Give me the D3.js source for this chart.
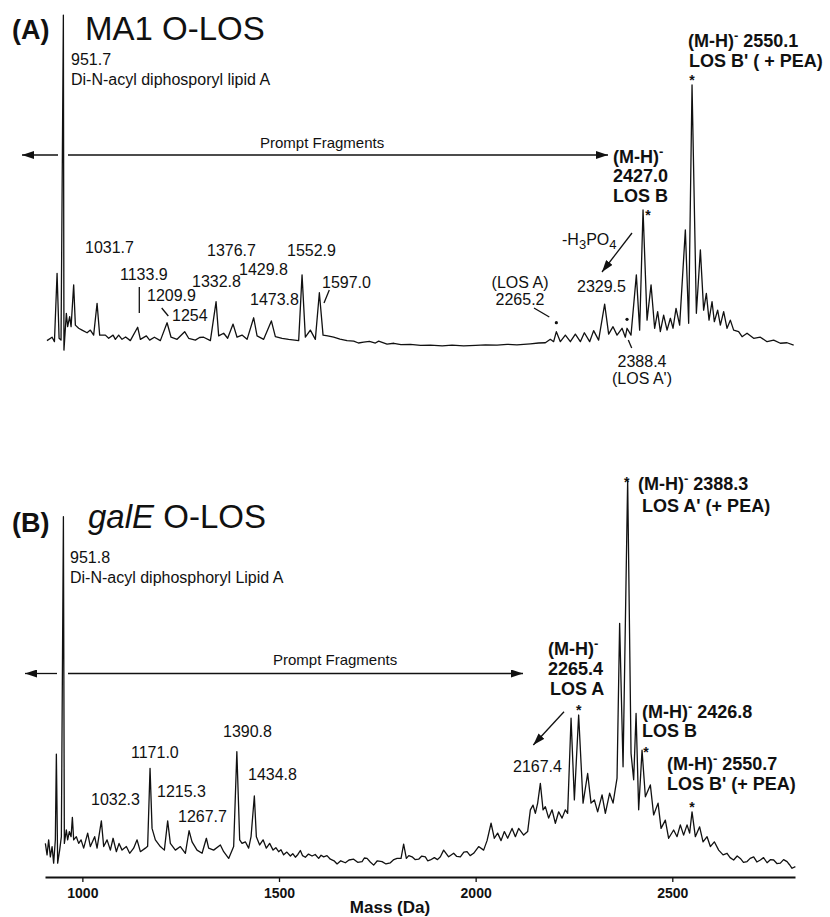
<!DOCTYPE html>
<html>
<head>
<meta charset="utf-8">
<script src="https://cdn.jsdelivr.net/npm/d3@7"></script>
<style>
  body { margin: 0; background: #fff; }
  svg text { font-family: "Liberation Sans", Arial, Helvetica, sans-serif; fill: #111; }
  .reg { font-size: 16px; }
  .bold { font-size: 18px; font-weight: bold; }
</style>
</head>
<body>
<svg id="chart" width="830" height="917"></svg>
<script>
// mass axis
const massTicks = [1000, 1500, 2000, 2500];
const massDomain = [905, 2812];

// (A) MA1 O-LOS, [mass (Da), relative intensity %]
const spectrumA = [
  [910,2.8],[923,4.1],[929,2.4],[935.7,28.4],[940.8,3.7],[945.8,3.0],[951.7,126.6],[953.2,-0.8],
  [959.3,13.2],[962.6,8.1],[967.7,11.9],[971.3,8.1],[977.9,24.0],[982.2,8.7],[990.6,7.5],[999.2,6.8],
  [1012,5.8],[1020.3,6.8],[1028.7,4.9],[1037.4,17.0],[1044,4.9],[1058.5,4.9],[1066.9,3.7],[1078.1,4.9],
  [1083.9,3.3],[1092.3,4.9],[1100.9,3.3],[1110,4.2],[1122,2.8],[1140.6,7.9],[1147.5,3.3],[1162.7,4.6],[1171.1,3.0],
  [1183.1,4.1],[1198.3,2.8],[1215.4,9.6],[1225.5,4.1],[1240.8,3.3],[1260.1,6.2],[1270.3,3.7],[1287.3,3.0],
  [1298,4.0],[1308.4,4.1],[1325.5,2.8],[1340,17.6],[1346.6,4.6],[1359.3,5.6],[1369.4,3.7],[1383.2,9.1],[1393.3,4.1],
  [1406,4.9],[1418.8,3.3],[1435.6,11.5],[1444.2,4.6],[1461,3.3],[1480.6,10.3],[1490.7,4.3],[1507.8,3.7],
  [1524.5,3.3],[1550,2.8],[1558.6,27.8],[1567,4.1],[1579.7,6.8],[1592.4,3.3],[1602.6,21.0],[1612,4.9],
  [1623.7,4.6],[1639,4.1],[1655,3.4],[1673,2.8],[1690,2.6],[1702,1.9],[1715.2,2.2],[1730,2.5],[1745,1.9],
  [1753.4,2.6],[1774.7,1.5],[1792,1.8],[1810,1.3],[1834,1.4],[1860,1.0],[1884.8,1.1],[1915,0.8],[1940,1.1],
  [1969.5,0.8],[2000,1.0],[2025,1.2],[2054.4,1.1],[2080,1.4],[2105,1.2],[2139.1,1.6],[2160,1.9],[2177.2,2.0],
  [2189.9,3.3],[2198.3,2.4],[2205.2,6.2],[2215.4,2.4],
  [2228.1,4.9],[2240.8,2.4],[2253.5,5.3],[2266.2,2.4],[2276.4,5.8],[2289.9,2.4],[2300,6.6],[2312.7,3.0],
  [2328,16.7],[2338.2,5.3],[2349.3,8.1],[2359.5,4.9],[2372.2,7.5],[2380.6,4.1],[2384.9,7.5],[2395,4.9],
  [2408.6,27.8],[2417,6.8],[2425.6,52.5],[2435.8,10.6],[2446,24.0],[2455.1,7.5],[2462.8,13.8],[2469.6,6.2],
  [2478,12.5],[2486.7,6.8],[2495.1,11.3],[2501.9,7.5],[2509.5,15.1],[2518.7,8.7],[2533.2,44.9],[2541.6,9.4],
  [2550.2,100],[2561.2,13.2],[2571.4,37.3],[2579.7,14.4],[2586.6,20.8],[2593.4,10.6],[2601.1,17.6],[2606.9,10.0],
  [2615.3,14.4],[2622.2,8.7],[2630.6,13.8],[2639.2,7.5],[2647.6,10.6],[2656,6.8],[2668.7,6.2],[2677.4,4.3],
  [2690.1,5.6],[2706.9,3.7],[2723.9,4.1],[2741,2.4],[2757.8,3.0],[2774.7,1.8],[2791.8,2.0],[2808.6,1.1]
];

// (B) galE O-LOS
const spectrumB = [
  [905.9,8.0],[910.2,5.1],[914.3,8.9],[918.6,4.6],[923,7.2],[927,3.0],[931.3,8.9],[933.9,30.6],
  [937.2,3.0],[942.3,6.3],[946.6,9.7],[951.8,90.7],[954.2,8.0],[959.3,11.4],[962.6,8.9],[966.9,11.0],
  [971.3,9.7],[974.6,14.6],[977.9,8.9],[984.7,9.7],[990.6,8.0],[996.7,8.9],[1003.3,6.8],[1013.5,10.6],
  [1020.3,7.2],[1031.3,9.7],[1037.4,6.8],[1048.3,13.7],[1054.2,7.2],[1062.8,8.9],[1071.2,6.3],[1078.1,9.3],
  [1086.4,5.9],[1093.3,8.0],[1100.9,6.3],[1111.9,7.2],[1120.3,5.5],[1130.4,6.8],[1139.1,8.9],[1147.5,5.9],
  [1160.2,6.8],[1166,7.3],[1172.1,27.0],[1177.2,11.8],[1185.6,8.9],[1198.3,7.2],[1208.5,6.3],[1216.9,13.7],
  [1223.7,8.0],[1236.5,6.3],[1249.2,7.2],[1261.9,5.5],[1271.3,11.2],[1278.9,8.4],[1291.6,6.3],[1304.4,5.5],
  [1315.3,9.3],[1321.1,6.8],[1333.8,6.3],[1350.9,7.6],[1359.3,5.9],[1372,4.2],[1384.7,7.2],[1392.8,31.2],
  [1400,8.9],[1406,8.0],[1414.4,8.4],[1422.8,6.8],[1428.9,9.7],[1437.3,20.0],[1442.4,9.7],[1450.8,7.6],
  [1459.5,8.9],[1467.8,6.8],[1476.2,8.0],[1484.9,6.3],[1492,6.9],[1499.1,5.9],[1505,6.4],[1511.8,5.1],[1520,5.8],
  [1528.9,4.8],[1535,5.4],[1541.6,4.5],[1548,5.2],[1554.3,6.2],[1560,4.9],[1567,4.5],[1575,5.3],[1584,4.8],
  [1592,5.2],[1600.8,4.2],[1607,5.0],[1613.5,4.6],[1622,4.9],[1630.6,4.0],[1640,3.6],[1647.6,2.8],[1657,3.6],
  [1668.7,3.1],[1678,3.8],[1689.8,4.0],[1700,3.2],[1711.2,3.4],[1717,4.3],[1723.9,4.2],[1732,3.3],[1740.7,2.5],
  [1750,3.6],[1762,3.4],[1772,2.8],[1783.1,3.1],[1792,3.9],[1800.2,4.2],[1810.3,4.2],
  [1816.9,7.8],[1823.8,4.2],[1830,4.9],[1838.3,4.6],[1846,3.9],[1855.1,4.0],[1863,4.8],[1872.1,4.6],[1878,3.6],
  [1884.8,3.8],[1895,4.4],[1903,3.9],[1910.3,4.6],[1918.6,6.3],
  [1931.3,4.6],[1944.1,5.5],[1952,4.7],[1961.1,4.6],[1970,5.8],[1978.1,5.9],[1986,4.9],[1994.9,5.5],[2007.6,7.2],[2020.3,6.3],[2029,8.7],
  [2039.2,13.1],[2047.5,9.3],[2055.9,10.6],[2064.6,8.7],[2073,11.0],[2081.4,9.3],[2092.6,11.8],[2101,9.7],
  [2109.3,11.8],[2122.1,10.1],[2132.2,11.0],[2139.1,16.5],[2145.9,17.7],[2151.8,15.6],[2157.7,18.2],[2164.5,23.2],
  [2171.4,16.5],[2177.2,17.3],[2185.6,14.4],[2194.3,16.5],[2202.7,13.1],[2211.1,16.0],[2219.7,14.4],[2228.1,16.5],
  [2233.9,15.6],[2242.6,39.7],[2251,19.0],[2261.9,40.5],[2273.1,18.2],[2284.8,25.7],[2293.4,18.2],[2301.8,19.0],
  [2310.2,16.0],[2321.4,20.3],[2329.8,15.6],[2340.7,20.7],[2349.4,18.2],[2359.5,24.5],[2366.1,63.7],[2374.8,27.4],
  [2386.5,100],[2395.1,30.8],[2401.8,24.1],[2407.9,40.9],[2414.5,16.5],[2423.1,31.6],[2431.5,19.8],[2444.2,22.8],
  [2452.6,15.2],[2463.8,18.2],[2471.4,11.8],[2482.3,13.9],[2490.7,9.3],[2503.4,11.4],[2512.1,9.7],[2520.4,12.7],
  [2528.8,10.1],[2537.5,12.7],[2544.1,10.6],[2550.2,16.0],[2558.6,9.7],[2569.5,12.2],[2578.2,8.4],[2588.4,9.7],
  [2596.8,7.2],[2606.9,8.4],[2617.9,6.3],[2629.1,5.1],[2639.2,5.5],[2647,4.4],[2656,3.8],[2665,4.8],[2673,4.2],[2681,3.2],[2690.1,3.4],
  [2698,4.2],[2706.9,4.6],[2715,3.3],[2723.9,3.8],[2732,4.4],[2741,3.1],[2750,3.9],[2757.8,3.8],[2766,2.9],[2774.7,3.0],[2783,3.9],[2791.8,3.4],[2798,2.6],[2804.5,1.7],[2812.9,2.1]
];

// marked peaks: [mass, intensity]
const starsA = [[2550.2,100],[2425.6,52.5]];
const dotsA = [[2205.2,6.2],[2384.9,7.5]];
const starsB = [[2386.5,100],[2261.9,40.5],[2423.1,31.6],[2550.2,16.0]];

const svg = d3.select("#chart");

const x = d3.scaleLinear().domain(massDomain).range([45, 795]);
const yA = d3.scaleLinear().domain([0, 100]).range([348, 85]);
const yB = d3.scaleLinear().domain([0, 100]).range([875, 480]);

// arrow head
svg.append("defs").append("marker")
    .attr("id", "head")
    .attr("viewBox", "0 0 12 8")
    .attr("markerUnits", "userSpaceOnUse")
    .attr("markerWidth", 12).attr("markerHeight", 8)
    .attr("refX", 12).attr("refY", 4)
    .attr("orient", "auto")
  .append("path").attr("d", "M0,0L12,4L0,8Z").attr("fill", "#111");

function drawSpectrum(data, y) {
  const line = d3.line().x(d => x(d[0])).y(d => y(d[1]));
  svg.append("path")
      .datum(data)
      .attr("d", line)
      .attr("fill", "none")
      .attr("stroke", "#111")
      .attr("stroke-width", 1.3)
      .attr("stroke-linejoin", "round");
}
drawSpectrum(spectrumA, yA);
drawSpectrum(spectrumB, yB);

function txt(px, py, s, cls, anchor) {
  return svg.append("text").attr("x", px).attr("y", py)
      .attr("class", cls || "reg")
      .attr("text-anchor", anchor || "start")
      .text(s);
}
function mh(px, py, mass) {
  const t = svg.append("text").attr("x", px).attr("y", py).attr("class", "bold");
  t.append("tspan").text("(M-H)");
  t.append("tspan").attr("dy", -7).style("font-size", "13px").text("-");
  t.append("tspan").attr("dy", 7).text(mass ? " " + mass : "");
}
function seg(x1, y1, x2, y2, arrow, w) {
  const l = svg.append("line")
      .attr("x1", x1).attr("y1", y1).attr("x2", x2).attr("y2", y2)
      .attr("stroke", "#111").attr("stroke-width", w || 1.3);
  if (arrow) l.attr("marker-end", "url(#head)");
}
function stars(list, y, dx, dy) {
  list.forEach((d, i) => {
    svg.append("text")
        .attr("x", x(d[0]) + dx[i]).attr("y", y(d[1]) + dy[i])
        .attr("text-anchor", "middle")
        .style("font-size", "14px").style("font-weight", "bold")
        .text("*");
  });
}

// ---- panel A ----
txt(12, 39, "(A)", "bold").style("font-size", "27px");
txt(85, 40, "MA1 O-LOS").style("font-size", "33px");
txt(71, 65, "951.7");
txt(71, 85, "Di-N-acyl diphosporyl lipid A");
txt(260, 148, "Prompt Fragments").style("font-size", "15px");
seg(58, 155, 22, 155, true);
seg(68, 155, 608, 155, true);

[["1031.7",85,253],["1133.9",120,280],["1209.9",147,301],["1254",172,321],["1332.8",192,287],
 ["1376.7",207,256],["1429.8",239,275],["1473.8",250,305],["1552.9",287,256],["1597.0",322,288],
 ["2329.5",577,292]].forEach(d => txt(d[1], d[2], d[0]));
txt(520, 288, "(LOS A)", "reg", "middle");
txt(520, 305, "2265.2", "reg", "middle");
txt(642, 367, "2388.4", "reg", "middle");
txt(642, 384, "(LOS A')", "reg", "middle");

const h3 = txt(562, 245, "-H");
h3.append("tspan").attr("dy", 4).style("font-size", "13px").text("3");
h3.append("tspan").attr("dy", -4).text("PO");
h3.append("tspan").attr("dy", 4).style("font-size", "13px").text("4");
seg(632, 233, 602, 272, true);

seg(139.3, 287, 139.3, 313);
seg(161.7, 308, 168.3, 316);
seg(329.3, 290, 324, 303);
seg(534, 308, 549.3, 317);
seg(628.3, 340, 631.7, 348);

mh(688, 47, "2550.1");
txt(689, 67, "LOS B' ( + PEA)", "bold");
mh(613, 163, "");
txt(613, 182, "2427.0", "bold");
txt(613, 202, "LOS B", "bold");
stars(starsA, yA, [0, 5], [0, 10]);
svg.selectAll(".dotA").data(dotsA).enter().append("circle")
    .attr("cx", d => x(d[0])).attr("cy", d => yA(d[1]) - 9)
    .attr("r", 1.6).attr("fill", "#111");

// ---- panel B ----
txt(12, 532, "(B)", "bold").style("font-size", "27px");
const tb = txt(88, 528, "").style("font-size", "33px");
tb.append("tspan").attr("font-style", "italic").text("galE");
tb.append("tspan").text(" O-LOS");
txt(70, 563, "951.8");
txt(70, 583, "Di-N-acyl diphosphoryl Lipid A");
txt(273, 665, "Prompt Fragments").style("font-size", "15px");
seg(57, 673.5, 25, 673.5, true);
seg(68, 673.5, 523, 673.5, true);

[["1032.3",91,805],["1171.0",131,758],["1215.3",157,797],["1267.7",178,822],
 ["1390.8",223,737],["1434.8",248,780],["2167.4",513,772]].forEach(d => txt(d[1], d[2], d[0]));
seg(564, 711.7, 533.3, 745, true);

mh(548, 655, "");
txt(548, 675, "2265.4", "bold");
txt(550, 695, "LOS A", "bold");
mh(638, 490, "2388.3");
txt(642, 512, "LOS A' (+ PEA)", "bold");
mh(642, 718, "2426.8");
txt(642, 737, "LOS B", "bold");
mh(667, 770, "2550.7");
txt(667, 790, "LOS B' (+ PEA)", "bold");
stars(starsB, yB, [-1, 0, 4, 0], [7, 0, 7, 0]);

// ---- axis ----
const axis = svg.append("g")
    .attr("transform", "translate(0,877)")
    .call(d3.axisBottom(x).tickValues(massTicks).tickSize(5).tickSizeOuter(0).tickFormat(d3.format("d")));
axis.select(".domain").attr("stroke", "#111").attr("stroke-width", 2);
axis.selectAll(".tick line").attr("stroke", "#111").attr("stroke-width", 1.3);
axis.selectAll(".tick text")
    .attr("y", 11)
    .style("font-family", "Liberation Sans, Arial, sans-serif")
    .style("font-size", "14px").style("font-weight", "bold").attr("fill", "#111");
txt(390, 913, "Mass (Da)", "bold", "middle").style("font-size", "17px");
</script>
</body>
</html>
